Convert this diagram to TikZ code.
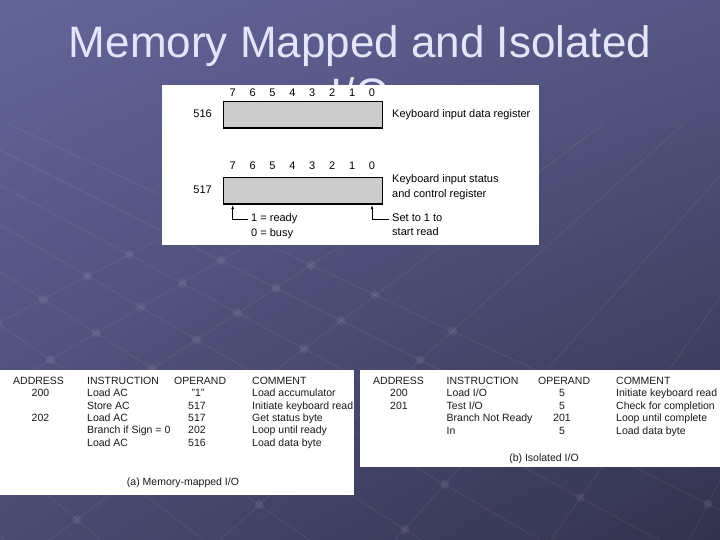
\documentclass[tikz,border=0pt]{standalone}
\usepackage{fontspec}
\setmainfont{Liberation Sans}
\usetikzlibrary{arrows.meta,calc,shadings}
\definecolor{bgTL}{RGB}{99,101,153}
\definecolor{bgTR}{RGB}{86,86,132}
\definecolor{bgBL}{RGB}{74,74,114}
\definecolor{bgBR}{RGB}{50,50,78}
\definecolor{titlec}{RGB}{228,228,250}
\definecolor{regfill}{RGB}{204,204,204}
\definecolor{tabtext}{RGB}{25,25,25}
\begin{document}
\begin{tikzpicture}[x=1pt,y=-1pt,
  titletext/.style={font=\fontsize{44}{52}\selectfont, text=titlec, inner sep=0pt, anchor=base},
  bitlbl/.style={font=\fontsize{11}{13}\selectfont, inner sep=0pt, text=black, anchor=base},
  reglbl/.style={font=\fontsize{11}{13}\selectfont, inner sep=0pt, anchor=base west, text=black},
  regbox/.style={draw=black, line width=1.3pt, fill=regfill, minimum width=159.3pt, minimum height=26.6pt, inner sep=0pt, anchor=north west},
  tbl/.style={font=\fontsize{10.5}{12}\selectfont, inner sep=0pt, text=tabtext, anchor=base west},
  tblc/.style={tbl, anchor=base},
  arr/.style={-{Latex[length=4pt,width=3pt]}, line width=0.6pt},
  gridln/.style={draw=white, opacity=0.08, line width=0.7pt},
  griddot/.style={fill=white, opacity=0.07}
]
\useasboundingbox (0,0) rectangle (720,540);
\shade[upper left=bgTL, upper right=bgTR, lower left=bgBL, lower right=bgBR] (0,0) rectangle (720,540);

% background lattice
\coordinate (vpA) at (1100,-250);
\coordinate (vpB) at (-900,-300);
\begin{scope}
  \clip (0,125) rectangle (720,540);
  \foreach \x [count=\i] in {-420,-260,-110,50,220,395,551,689,830,970} {
    \coordinate (A\i) at (\x,540);
    \draw[gridln] (vpA) -- ($(vpA)!1.4!(A\i)$);
  }
  \foreach \y [count=\j] in {120,150,185,225,272,325,385,455,535,625} {
    \coordinate (B\j) at ($(vpB)!3!(0,\y)$);
    \draw[gridln] (vpB) -- (B\j);
  }
  \foreach \i in {1,...,10} {
    \foreach \j in {1,...,10} {
      \fill[griddot] (intersection cs: first line={(vpA)--(A\i)}, second line={(vpB)--(B\j)}) circle (4.5pt);
    }
  }
\end{scope}

% title
\node[titletext] (title1) at (360,57.5) {Memory Mapped and Isolated};
\node[titletext] (title2) at (360,110) {I/O};

% top panel: registers
\fill[white] (162,85.5) rectangle (539.3,245);
\node[regbox] (r516) at (222.7,100.7) {};
\node[regbox] (r517) at (222.7,176.7) {};
\foreach \b in {0,...,7} {
  \node[bitlbl] (ba\b) at ({232.7+19.9*(7-\b)},97) {\b};
  \node[bitlbl] (bb\b) at ({232.7+19.9*(7-\b)},169.7) {\b};
}
\node[bitlbl, anchor=base east] (n516) at (212,117.4) {516};
\node[bitlbl, anchor=base east] (n517) at (212,193.4) {517};
\node[reglbl] (k1) at (392,117.4) {Keyboard input data register};
\node[reglbl] (k2) at (392,183) {Keyboard input status};
\node[reglbl] (k3) at (392,197.2) {and control register};
\node[reglbl] (ready) at (251,221.6) {1 = ready};
\node[reglbl] (busy) at (251,236.4) {0 = busy};
\node[reglbl] (set1) at (392,221.6) {Set to 1 to};
\node[reglbl] (sread) at (392,235.6) {start read};
\draw[arr] ([shift={(-3pt,2.4pt)}]ready.base west) -| ([yshift=-0.65pt]r517.south -| bb7);
\draw[arr] ([shift={(-3.5pt,2.4pt)}]set1.base west) -| ([yshift=-0.65pt]r517.south -| bb0);

% bottom left panel: memory-mapped I/O
\fill[white] (0,370) rectangle (353.5,495);
\node[tbl] (lh1) at (13,384.5) {ADDRESS};
\node[tbl] (lh2) at (87,384.5) {INSTRUCTION};
\node[tbl] (lh3) at (174,384.5) {OPERAND};
\node[tbl] (lh4) at (252,384.5) {COMMENT};
\node[tblc] (la1) at (40.5,396.9) {200};
\node[tblc] (la3) at (40.5,421.6) {202};
\node[tbl] (li1) at (87,396.9) {Load AC};
\node[tbl] (li2) at (87,409.2) {Store AC};
\node[tbl] (li3) at (87,421.6) {Load AC};
\node[tbl] (li4) at (87,433.9) {Branch if Sign = 0};
\node[tbl] (li5) at (87,446.3) {Load AC};
\node[tblc] (lo1) at (198,396.9) {"1"};
\node[tblc] (lo2) at (197,409.2) {517};
\node[tblc] (lo3) at (197,421.6) {517};
\node[tblc] (lo4) at (197,433.9) {202};
\node[tblc] (lo5) at (197,446.3) {516};
\node[tbl] (lc1) at (252,396.9) {Load accumulator};
\node[tbl] (lc2) at (252,409.2) {Initiate keyboard read};
\node[tbl] (lc3) at (252,421.6) {Get status byte};
\node[tbl] (lc4) at (252,433.9) {Loop until ready};
\node[tbl] (lc5) at (252,446.3) {Load data byte};
\node[tblc] (capa) at (183,485.5) {(a) Memory-mapped I/O};

% bottom right panel: isolated I/O
\begin{scope}
  \clip (360,370) rectangle (720,467.3);
  \fill[white] (360,370) rectangle (720,467.3);
  \node[tbl] (rh1) at (373,384) {ADDRESS};
  \node[tbl] (rh2) at (446.5,384) {INSTRUCTION};
  \node[tbl] (rh3) at (538,384) {OPERAND};
  \node[tbl] (rh4) at (616,384) {COMMENT};
  \node[tblc] (ra1) at (399,396.5) {200};
  \node[tblc] (ra2) at (399,409) {201};
  \node[tbl] (ri1) at (446.5,396.5) {Load I/O};
  \node[tbl] (ri2) at (446.5,409) {Test I/O};
  \node[tbl] (ri3) at (446.5,421.5) {Branch Not Ready};
  \node[tbl] (ri4) at (446.5,434) {In};
  \node[tblc] (ro1) at (562,396.5) {5};
  \node[tblc] (ro2) at (562,409) {5};
  \node[tblc] (ro3) at (562,421.5) {201};
  \node[tblc] (ro4) at (562,434) {5};
  \node[tbl] (rc1) at (616,396.5) {Initiate keyboard read};
  \node[tbl] (rc2) at (616,409) {Check for completion};
  \node[tbl] (rc3) at (616,421.5) {Loop until complete};
  \node[tbl] (rc4) at (616,434) {Load data byte};
  \node[tblc] (capb) at (544,461.1) {(b) Isolated I/O};
\end{scope}
\end{tikzpicture}
\end{document}
